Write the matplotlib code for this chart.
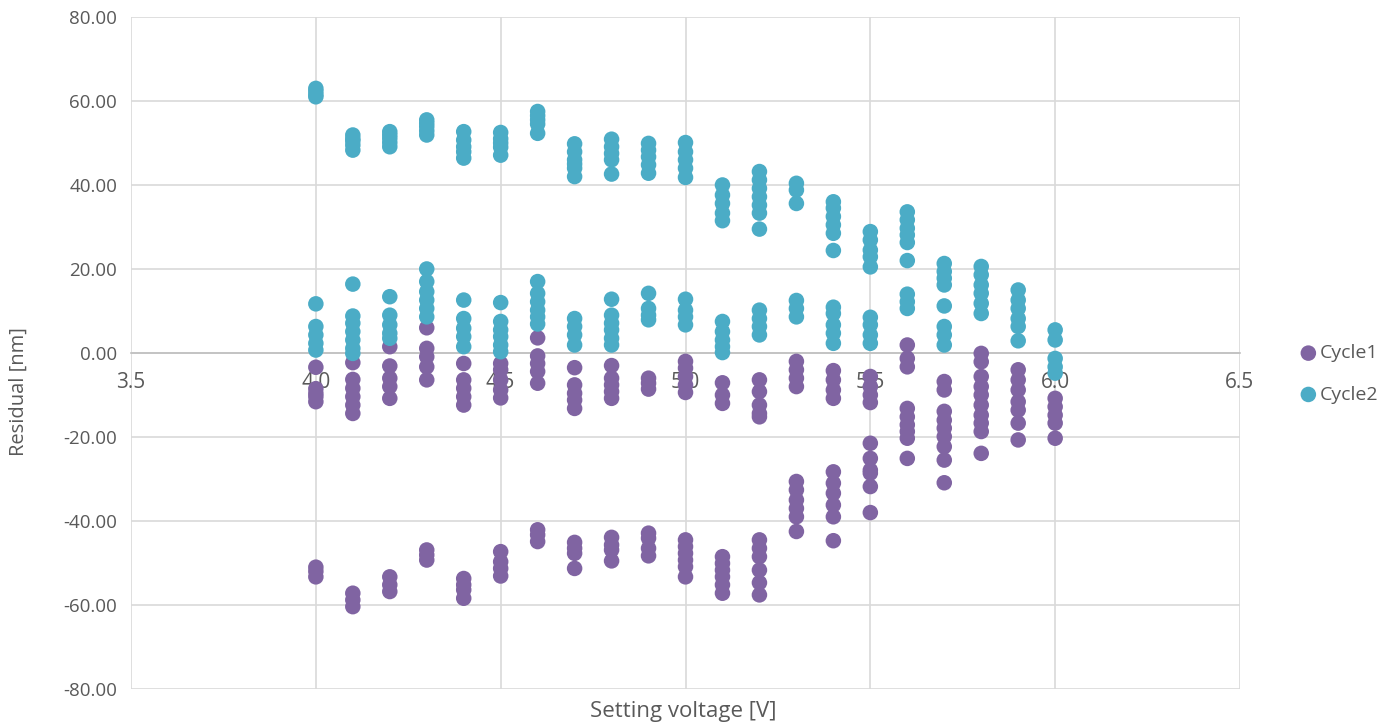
import numpy as np
import matplotlib.pyplot as plt
from matplotlib.ticker import FormatStrFormatter, MultipleLocator

voltages = [4.0, 4.1, 4.2, 4.3, 4.4, 4.5, 4.6, 4.7, 4.8, 4.9, 5.0,
            5.1, 5.2, 5.3, 5.4, 5.5, 5.6, 5.7, 5.8, 5.9, 6.0]

# residuals [nm] read per setting voltage
cycle1_residuals = [
    [-3.4, -8.5, -9.6, -10.4, -11.6, -51.0, -52.0, -53.3],
    [-2.3, -6.3, -8.4, -10.4, -12.4, -14.4, -57.2, -58.8, -60.4],
    [1.5, -3.1, -6.0, -8.0, -10.8, -53.3, -55.2, -56.8],
    [6.0, 1.1, -0.9, -3.3, -6.4, -46.9, -48.1, -49.3],
    [-2.5, -6.4, -8.4, -10.4, -12.4, -53.7, -55.2, -56.4, -58.4],
    [-2.5, -4.0, -6.4, -8.8, -10.7, -47.3, -49.7, -51.3, -53.1],
    [3.6, -0.7, -2.5, -4.4, -7.2, -42.1, -43.3, -44.9],
    [-3.5, -7.6, -9.6, -11.2, -13.2, -45.1, -46.5, -47.7, -51.3],
    [-3.0, -6.0, -7.6, -9.2, -10.8, -43.9, -45.7, -46.9, -49.5],
    [-6.0, -7.2, -8.6, -42.9, -44.1, -46.5, -48.3],
    [-2.0, -3.6, -5.6, -7.6, -9.4, -44.5, -46.1, -47.7, -49.3, -50.9, -53.3],
    [-7.1, -10.0, -12.0, -48.5, -50.1, -51.7, -53.3, -55.2, -57.2],
    [-6.4, -9.2, -12.4, -14.4, -15.2, -44.5, -46.5, -48.5, -51.7, -54.7, -57.6],
    [-2.0, -4.0, -6.0, -8.0, -30.6, -32.6, -35.0, -37.0, -39.0, -42.5],
    [-4.2, -6.4, -8.8, -10.8, -28.3, -31.0, -33.4, -36.2, -39.0, -44.7],
    [-5.6, -8.0, -10.0, -11.8, -21.5, -25.1, -27.9, -28.6, -31.8, -38.0],
    [1.9, -1.3, -3.3, -13.2, -15.2, -17.1, -18.7, -20.3, -25.1],
    [-6.8, -8.8, -13.9, -16.0, -17.9, -19.9, -22.3, -25.5, -30.9],
    [-0.1, -2.1, -5.6, -8.0, -10.0, -12.4, -14.8, -16.7, -18.7, -23.9],
    [-4.0, -6.4, -8.8, -11.6, -13.6, -16.7, -20.7],
    [-10.8, -12.8, -14.8, -16.7, -20.3],
]

cycle2_residuals = [
    [63.0, 62.3, 61.5, 61.0, 11.7, 6.3, 4.3, 2.3, 0.7],
    [51.9, 51.0, 50.5, 49.5, 48.3, 16.4, 8.8, 7.1, 5.1, 3.1, 1.1, -0.1],
    [52.7, 51.9, 51.1, 50.1, 49.1, 13.4, 9.0, 6.7, 4.7, 3.5],
    [55.5, 54.7, 53.9, 52.9, 51.9, 20.0, 17.0, 14.6, 12.6, 10.6, 8.6],
    [52.7, 50.7, 49.1, 47.9, 46.4, 12.6, 8.2, 5.9, 3.9, 1.5],
    [52.5, 51.0, 50.0, 49.0, 47.1, 12.0, 7.5, 5.5, 3.9, 1.9, 0.3],
    [57.5, 56.5, 55.5, 54.5, 52.3, 17.0, 14.2, 12.2, 10.2, 8.6, 6.9],
    [49.8, 47.9, 46.0, 45.0, 44.0, 42.0, 8.2, 6.3, 4.3, 1.9],
    [50.9, 49.1, 47.5, 46.0, 42.6, 12.8, 9.0, 7.1, 5.5, 3.5, 1.9],
    [49.9, 48.3, 46.7, 44.8, 42.8, 14.2, 10.6, 9.0, 7.9],
    [50.1, 47.9, 46.0, 44.0, 41.8, 12.8, 10.2, 8.6, 6.7],
    [40.0, 37.6, 35.6, 33.3, 31.5, 7.5, 5.1, 3.1, 1.5, 0.1],
    [43.2, 41.2, 39.2, 37.2, 35.2, 33.3, 29.5, 10.2, 8.2, 6.3, 4.3],
    [40.4, 38.8, 35.6, 12.5, 10.6, 8.6],
    [36.0, 34.5, 32.5, 30.5, 28.5, 24.4, 10.9, 9.4, 6.7, 4.7, 2.3],
    [28.9, 26.9, 24.5, 22.9, 20.5, 8.5, 6.7, 4.3, 2.3],
    [33.6, 31.7, 29.7, 28.1, 26.3, 22.0, 14.0, 12.2, 10.6],
    [21.3, 19.4, 17.8, 16.2, 11.2, 6.3, 4.3, 1.9],
    [20.6, 18.6, 16.2, 14.2, 11.8, 9.4],
    [15.0, 12.6, 10.6, 8.2, 6.3, 2.9],
    [5.5, 3.1, -1.3, -3.3, -4.8],
]

series_names = ['Cycle1', 'Cycle2']
series_colors = ['#8064A2', '#4BACC6']


def flatten(xs, groups):
    x_out, y_out = [], []
    for x, vals in zip(xs, groups):
        x_out.extend([x] * len(vals))
        y_out.extend(vals)
    return np.array(x_out), np.array(y_out)


plt.rcParams['font.family'] = ['Open Sans', 'DejaVu Sans']
fig = plt.figure(figsize=(13.85, 7.26), dpi=100)
ax = fig.add_axes([0.0946, 0.051, 0.8007, 0.9256])

for name, color, groups in zip(series_names, series_colors,
                               [cycle1_residuals, cycle2_residuals]):
    x, y = flatten(voltages, groups)
    ax.scatter(x, y, s=125, color=color, edgecolors='none', label=name, zorder=3)

ax.set_xlim(3.5, 6.5)
ax.set_ylim(-80, 80)
ax.xaxis.set_major_locator(MultipleLocator(0.5))
ax.yaxis.set_major_locator(MultipleLocator(20))
ax.xaxis.set_major_formatter(FormatStrFormatter('%.1f'))
ax.yaxis.set_major_formatter(FormatStrFormatter('%.2f'))
ax.grid(True, color='#D9D9D9', linewidth=1.2, zorder=0)
ax.set_axisbelow(True)

for side in ['top', 'right', 'left']:
    ax.spines[side].set_visible(False)
ax.spines['bottom'].set_position(('data', 0))
ax.spines['bottom'].set_color('#BFBFBF')
ax.spines['bottom'].set_linewidth(1.2)
ax.tick_params(axis='x', length=0, labelsize=15, colors='#595959', pad=14)
ax.tick_params(axis='y', length=0, labelsize=13.5, colors='#595959', pad=10)

fig.text(0.493, 0.005, 'Setting voltage [V]', ha='center', va='bottom',
         fontsize=16, color='#595959')
fig.text(0.006, 0.46, 'Residual [nm]', ha='left', va='center', rotation=90,
         fontsize=14.5, color='#595959')

fig.legend(loc='center left', bbox_to_anchor=(0.925, 0.485), frameon=False,
           fontsize=14, labelspacing=1.2, handletextpad=0.1, markerscale=1.0,
           labelcolor='#595959', handlelength=1.0)

plt.savefig('out.png', dpi=100)
